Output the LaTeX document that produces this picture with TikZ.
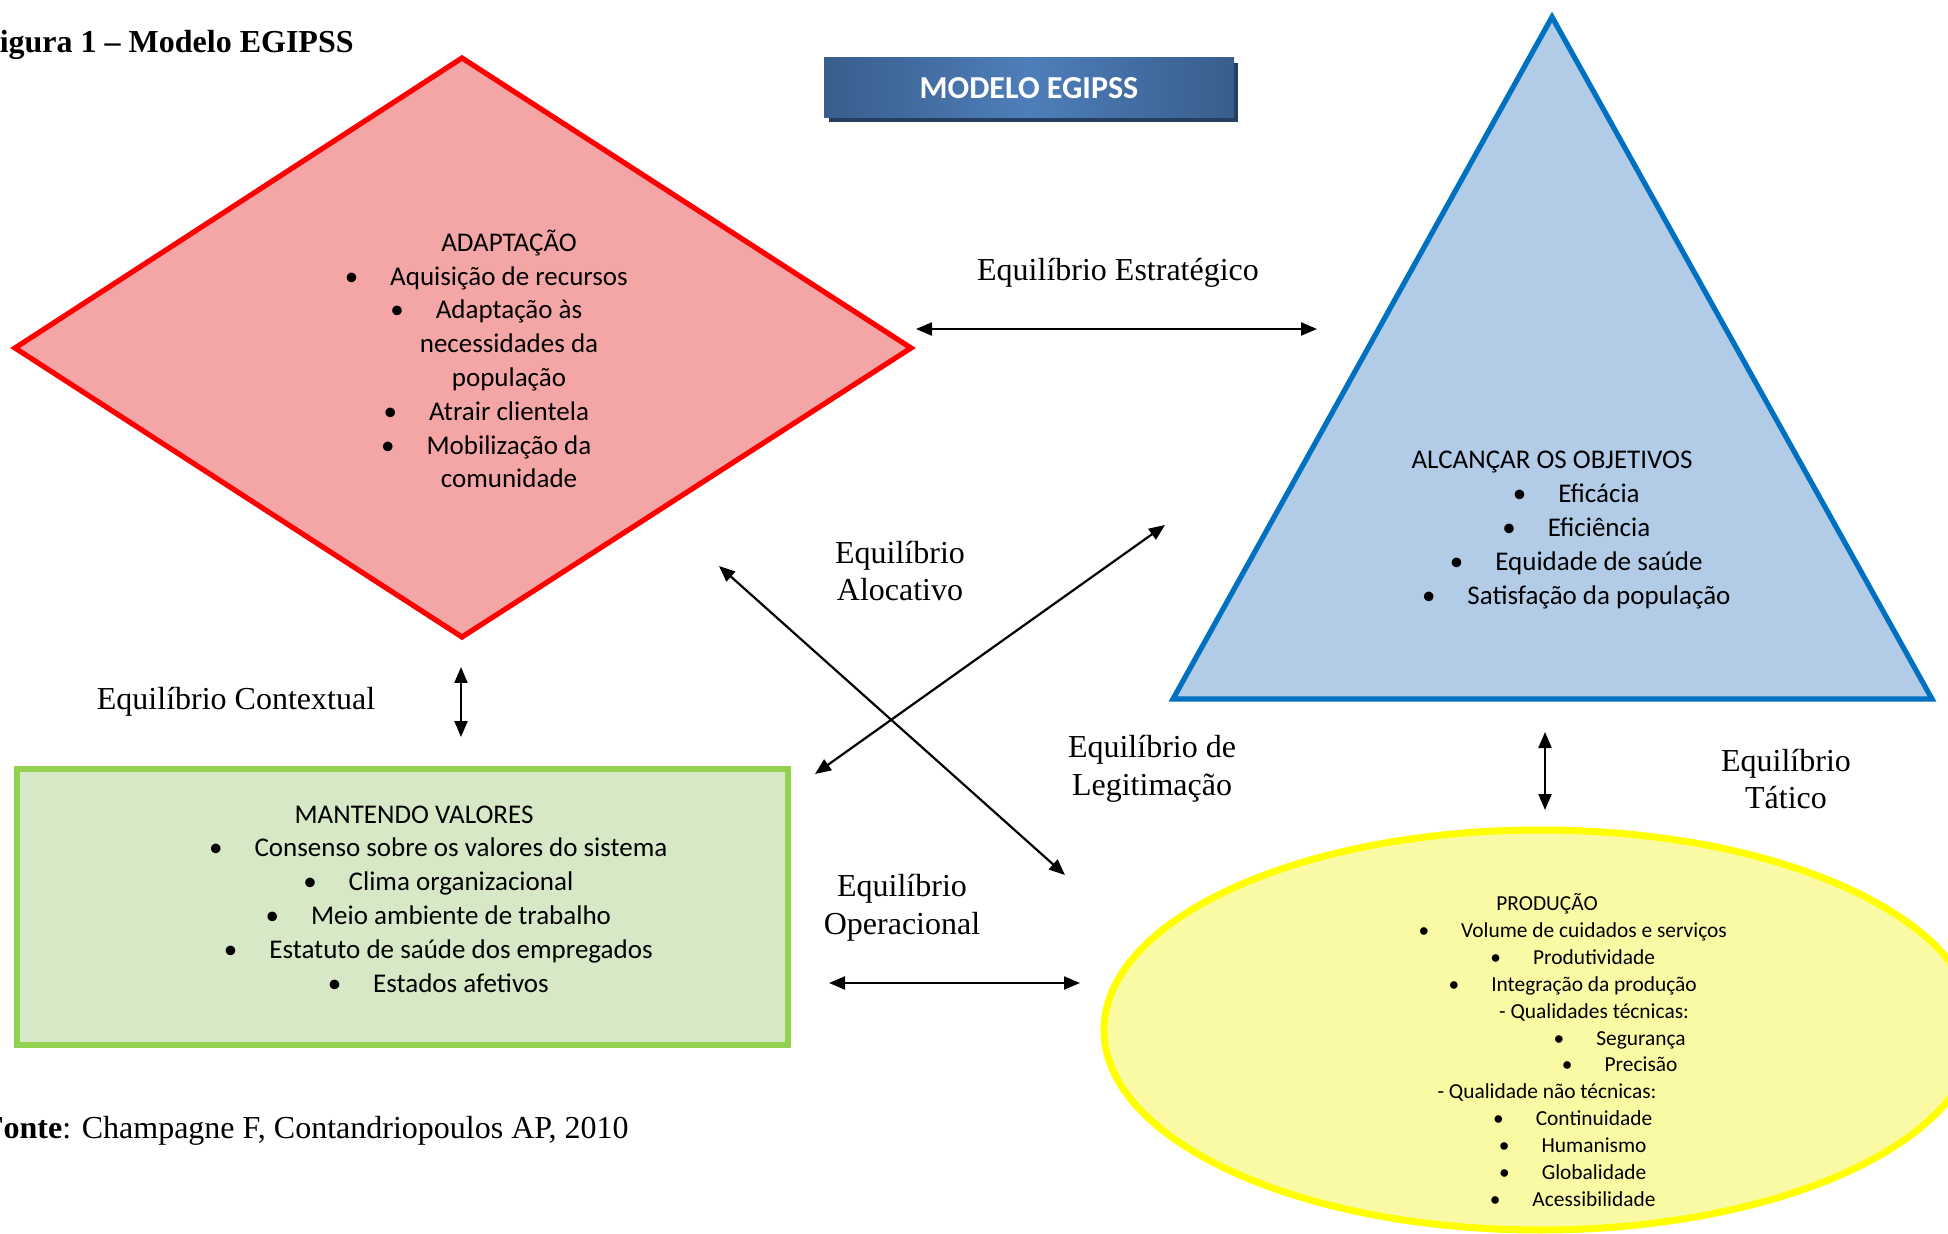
\documentclass[tikz,border=0pt]{standalone}
\usepackage{fontspec}
\setmainfont{Liberation Serif}
\newfontfamily\calibri{Carlito}
\usetikzlibrary{arrows.meta}
\definecolor{adaptline}{RGB}{255,0,0}
\definecolor{adaptfill}{RGB}{244,166,166}
\definecolor{goalline}{RGB}{0,112,192}
\definecolor{goalfill}{RGB}{178,204,232}
\definecolor{valueline}{RGB}{146,208,80}
\definecolor{valuefill}{RGB}{214,232,198}
\definecolor{prodline}{RGB}{255,255,0}
\definecolor{prodfill}{RGB}{250,250,165}
\definecolor{headdark}{RGB}{36,63,96}
\definecolor{headedge}{RGB}{56,94,140}
\definecolor{headmid}{RGB}{78,126,186}
\newcommand{\bul}{\llap{\textbullet\hspace{16pt}}}
\newsavebox{\shbox}
\newcommand{\sh}[2]{\sbox{\shbox}{#2}\makebox[\wd\shbox][l]{\hspace*{#1}\usebox{\shbox}}}
\tikzset{
  boxtext/.style={align=center, inner sep=0pt,
    font=\calibri\fontsize{13.5}{16.9}\selectfont},
  smalltext/.style={align=center, inner sep=0pt,
    font=\calibri\fontsize{10.7}{13.45}\selectfont},
  eqlabel/.style={align=center, inner sep=0pt,
    font=\fontsize{16}{18.8}\selectfont},
  eqarrow/.style={{Triangle[length=8pt,width=6.5pt]}-{Triangle[length=8pt,width=6.5pt]}, line width=1.1pt}
}
\begin{document}
\begin{tikzpicture}[x=0.5pt, y=-0.5pt]
  \useasboundingbox (0,0) rectangle (1948,1234);
  % shapes
  \draw[line width=2.6pt, adaptline, fill=adaptfill, line join=miter]
    (15,348) -- (462,58) -- (911,348) -- (462,637) -- cycle;
  \draw[line width=2.6pt, goalline, fill=goalfill]
    (1552,17) -- (1932,699) -- (1173,699) -- cycle;
  \draw[line width=3pt, valueline, fill=valuefill]
    (17,769) rectangle (788,1045);
  \draw[line width=3.5pt, prodline, fill=prodfill]
    (1540,1030) ellipse [x radius=436, y radius=200];
  % header
  \fill[headdark] (829,63) rectangle (1238,122);
  \shade[left color=headedge, right color=headedge, middle color=headmid]
    (824,58) rectangle (1234,118);
  \draw
    (1029,88) node (head) {\calibri\fontsize{16}{19}\selectfont\bfseries\color{white} MODELO EGIPSS}
    (354,53) node[anchor=base east, inner sep=0pt] (fig) {\fontsize{16}{19}\selectfont\bfseries Figura 1 – Modelo EGIPSS}
    (629,1138) node[anchor=base east, inner sep=0pt] (src) {\fontsize{16}{19}\selectfont\textbf{Fonte}: Champagne F, Contandriopoulos AP, 2010};
  % texts of the four functions
  \draw
    (509,359) node[boxtext] (adapt) {ADAPTAÇÃO\\ \bul Aquisição de recursos\\ \bul Adaptação às\\ necessidades da\\ população\\ \bul Atrair clientela\\ \bul Mobilização da\\ comunidade}
    (1599,530) node[boxtext] (goal) {\sh{-23.5pt}{ALCANÇAR OS OBJETIVOS}\\ \bul Eficácia\\ \bul Eficiência\\ \bul Equidade de saúde\\ \bul Satisfação da população}
    (461,899) node[boxtext] (value) {\sh{-23.5pt}{MANTENDO VALORES}\\ \bul Consenso sobre os valores do sistema\\ \bul Clima organizacional\\ \bul Meio ambiente de trabalho\\ \bul Estatuto de saúde dos empregados\\ \bul Estados afetivos}
    (1594,1050) node[smalltext] (prod) {\sh{-23.5pt}{PRODUÇÃO}\\ \bul Volume de cuidados e serviços\\ \bul Produtividade\\ \bul Integração da produção\\ - Qualidades técnicas:\\ \sh{23.5pt}{\bul Segurança}\\ \sh{23.5pt}{\bul Precisão}\\ \sh{-23.5pt}{- Qualidade não técnicas:}\\ \bul Continuidade\\ \bul Humanismo\\ \bul Globalidade\\ \bul Acessibilidade};
  % equilibrium labels
  \draw
    (1118,273) node[eqlabel] (estr) {Equilíbrio Estratégico}
    (236,702) node[eqlabel] (cont) {Equilíbrio Contextual}
    (1786,779) node[eqlabel] (tat) {Equilíbrio\\Tático}
    (902,908) node[eqlabel] (oper) {Equilíbrio\\Operacional}
    (900,571) node[eqlabel] (aloc) {Equilíbrio\\Alocativo}
    (1152,769) node[eqlabel] (legit) {Equilíbrio de\\Legitimação};
  % arrow ends
  \path
    (916,329) coordinate (estrA) (1317,329) coordinate (estrB)
    (461,667) coordinate (contA) (461,737) coordinate (contB)
    (1545,732) coordinate (tatA) (1545,810) coordinate (tatB)
    (829,983) coordinate (operA) (1080,983) coordinate (operB)
    (719,566) coordinate (alocA) (1065,875) coordinate (alocB)
    (1165,525) coordinate (legitA) (815,774) coordinate (legitB);
  \begin{scope}[eqarrow]
    \draw (estrA) to (estrB);
    \draw (contA) to (contB);
    \draw (tatA) to (tatB);
    \draw (operA) to (operB);
    \draw (alocA) to (alocB);
    \draw (legitA) to (legitB);
  \end{scope}
\end{tikzpicture}
\end{document}
